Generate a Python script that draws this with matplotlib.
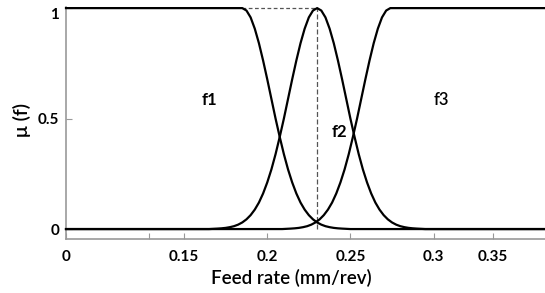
import matplotlib
matplotlib.use('Agg')
import matplotlib.pyplot as plt

plt.rcParams['font.family'] = ['Lato', 'DejaVu Sans']

# membership curves (feed rate in mm/rev, mu)
f1_x = [0.079, 0.185, 0.1875, 0.19, 0.1925, 0.195, 0.1975, 0.2, 0.2025, 0.205,
        0.2075, 0.21, 0.2125, 0.215, 0.2175, 0.22, 0.2225, 0.225, 0.2275,
        0.23, 0.2325, 0.235, 0.2375, 0.24, 0.2425, 0.245, 0.25, 0.367]
f1_mu = [1.0, 1.0, 0.989, 0.958, 0.907, 0.841, 0.763, 0.678, 0.589, 0.500,
         0.417, 0.339, 0.270, 0.211, 0.161, 0.120, 0.088, 0.063, 0.044,
         0.030, 0.020, 0.013, 0.0085, 0.0053, 0.0033, 0.002, 0.0, 0.0]

f2_x = [0.079, 0.165, 0.17, 0.1725, 0.175, 0.1775, 0.18, 0.1825, 0.185, 0.1875,
        0.19, 0.1925, 0.195, 0.1975, 0.2, 0.2025, 0.205, 0.2075, 0.21, 0.2125,
        0.215, 0.2175, 0.22, 0.2225, 0.225, 0.2275, 0.23, 0.2325, 0.235,
        0.2375, 0.24, 0.2425, 0.245, 0.2475, 0.25, 0.2525, 0.255, 0.2575,
        0.26, 0.2625, 0.265, 0.2675, 0.27, 0.2725, 0.275, 0.2775, 0.28,
        0.2825, 0.285, 0.2875, 0.29, 0.295, 0.367]
f2_mu = [0.0, 0.0, 0.002, 0.0033, 0.0053, 0.0085, 0.013, 0.020, 0.030, 0.044,
         0.063, 0.088, 0.120, 0.161, 0.211, 0.270, 0.339, 0.417, 0.500, 0.589,
         0.678, 0.763, 0.841, 0.907, 0.958, 0.989, 1.0, 0.989, 0.958,
         0.907, 0.841, 0.763, 0.678, 0.589, 0.500, 0.417, 0.339, 0.270,
         0.211, 0.161, 0.120, 0.088, 0.063, 0.044, 0.030, 0.020, 0.013,
         0.0085, 0.0053, 0.0033, 0.002, 0.0, 0.0]

f3_x = [0.079, 0.209, 0.214, 0.2165, 0.219, 0.2215, 0.224, 0.2265, 0.229,
        0.2315, 0.234, 0.2365, 0.239, 0.2415, 0.244, 0.2465, 0.249, 0.2515,
        0.254, 0.2565, 0.259, 0.2615, 0.264, 0.2665, 0.269, 0.2715, 0.274,
        0.367]
f3_mu = [0.0, 0.0, 0.002, 0.0033, 0.0053, 0.0085, 0.013, 0.020, 0.030,
         0.044, 0.063, 0.088, 0.120, 0.161, 0.211, 0.270, 0.339, 0.417,
         0.500, 0.589, 0.678, 0.763, 0.841, 0.907, 0.958, 0.989, 1.0,
         1.0]

tick_pos = [0.079, 0.129, 0.15, 0.2, 0.25, 0.3, 0.3355]
tick_labels = ['0', '', '0.15', '0.2', '0.25', '0.3', '0.35']

names = ['f1', 'f2', 'f3']
name_pos = [(0.1655, 0.584), (0.2435, 0.439), (0.3047, 0.584)]
name_weight = ['bold', 'bold', 'semibold']

fig = plt.figure(figsize=(5.45, 2.93), dpi=100)
ax = fig.add_axes([0.1211, 0.1843, 0.8789, 0.7918])

for xs, ys in [(f1_x, f1_mu), (f2_x, f2_mu), (f3_x, f3_mu)]:
    ax.plot(xs, ys, color='black', lw=1.6, clip_on=False, zorder=3,
            solid_joinstyle='round')

# dashed guides from f1 shoulder to f2 peak
peak_x = f2_x[f2_mu.index(max(f2_mu))]
ax.plot([f1_x[1], peak_x], [1, 1], color='#555555', lw=0.9, ls=(0, (3, 2)), zorder=2)
ax.plot([peak_x, peak_x], [0, 1], color='#555555', lw=0.9, ls=(0, (4, 2)), zorder=2)

for n, (tx, ty), w in zip(names, name_pos, name_weight):
    ax.text(tx, ty, n, fontsize=12, fontweight=w, ha='center', va='center')

ax.set_xlim(0.079, 0.367)
ax.set_ylim(-0.045, 1.005)
ax.set_xticks(tick_pos)
ax.set_xticklabels(tick_labels)
ax.set_yticks([0, 0.5, 1])
ax.set_yticklabels(['0', '0.5', '1'])
ax.get_yticklabels()[2].set_va('top')

ax.tick_params(axis='both', direction='in', length=4.5, color='#999999',
               labelsize=11)
for lab in ax.get_xticklabels() + ax.get_yticklabels():
    lab.set_fontweight('bold')
ax.tick_params(axis='x', pad=8)
ax.tick_params(axis='y', pad=5)

for s in ['top', 'right']:
    ax.spines[s].set_visible(False)
for s in ['left', 'bottom']:
    ax.spines[s].set_color('#999999')
    ax.spines[s].set_linewidth(1.2)

ax.set_xlabel('Feed rate (mm/rev)', fontsize=13.5, fontweight='semibold', labelpad=4)
ax.xaxis.set_label_coords(0.47, -0.13)
fig.text(0.04, 0.59, 'μ (f)', rotation=90, fontsize=14, fontweight='semibold',
         ha='center', va='center')

fig.savefig('out.png', dpi=100)
